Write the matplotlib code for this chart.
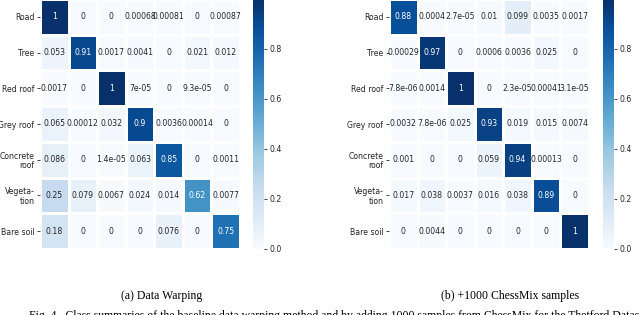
import numpy as np
import matplotlib
matplotlib.use("Agg")
import matplotlib.pyplot as plt

classes = ["Road", "Tree", "Red roof", "Grey roof", "Concrete\nroof", "Vegeta-\ntion", "Bare soil"]

warping = [
    [1, 0, 0, 0.00068, 0.00081, 0, 0.00087],
    [0.053, 0.91, 0.0017, 0.0041, 0, 0.021, 0.012],
    [0.0017, 0, 1, 7e-05, 0, 9.3e-05, 0],
    [0.065, 0.00012, 0.032, 0.9, 0.0036, 0.00014, 0],
    [0.086, 0, 1.4e-05, 0.063, 0.85, 0, 0.0011],
    [0.25, 0.079, 0.0067, 0.024, 0.014, 0.62, 0.0077],
    [0.18, 0, 0, 0, 0.076, 0, 0.75],
]

chessmix = [
    [0.88, 0.0004, 2.7e-05, 0.01, 0.099, 0.0035, 0.0017],
    [0.00029, 0.97, 0, 0.0006, 0.0036, 0.025, 0],
    [7.8e-06, 0.0014, 1, 0, 2.3e-05, 0.00041, 3.1e-05],
    [0.0032, 7.8e-06, 0.025, 0.93, 0.019, 0.015, 0.0074],
    [0.001, 0, 0, 0.059, 0.94, 0.00013, 0],
    [0.017, 0.038, 0.0037, 0.016, 0.038, 0.89, 0],
    [0, 0.0044, 0, 0, 0, 0, 1],
]

subcaptions = ["(a) Data Warping", "(b) +1000 ChessMix samples"]
caption = ("Fig. 4.  Class summaries of the baseline data warping method and by adding "
           "1000 samples from ChessMix for the Thetford Dataset")

W, H = 640, 315
fig = plt.figure(figsize=(6.4, 3.15), dpi=100)


def px(x0, y0, x1, y1):
    # pixel box (top-left origin) -> figure fraction rect
    return [x0 / W, 1 - y1 / H, (x1 - x0) / W, (y1 - y0) / H]


def heatmap(data, hm_box, cb_box):
    m = np.array(data, dtype=float)
    ax = fig.add_axes(px(*hm_box))
    mesh = ax.pcolormesh(m, cmap="Blues", vmin=0, vmax=m.max(),
                         edgecolors="white", linewidth=1.0)
    ax.set_xlim(0, m.shape[1])
    ax.set_ylim(m.shape[0], 0)
    for i in range(m.shape[0]):
        for j in range(m.shape[1]):
            v = m[i, j]
            ax.text(j + 0.5, i + 0.5, format(v, ".2g"), ha="center", va="center",
                    fontsize=5.6, color="white" if v > 0.5 else "#262626")
    ax.set_xticks([])
    ax.set_yticks(np.arange(m.shape[0]) + 0.5)
    ax.set_yticklabels(classes, fontsize=5.6, color="#262626", linespacing=1.1)
    ax.tick_params(axis="y", length=2.5, width=0.6, pad=1.5, colors="#262626")
    for s in ax.spines.values():
        s.set_visible(False)

    cax = fig.add_axes(px(*cb_box))
    cb = fig.colorbar(mesh, cax=cax)
    cb.outline.set_visible(False)
    cb.set_ticks([0.0, 0.2, 0.4, 0.6, 0.8])
    cb.ax.tick_params(labelsize=5.6, length=2.5, width=0.6, pad=1.5, colors="#262626")
    return ax


heatmap(warping, (40, -1, 240, 249), (253, -1, 264, 249))
heatmap(chessmix, (389, -1, 589, 249), (603, -1, 614, 249))

fig.text(162 / W, 1 - 296 / H, subcaptions[0], ha="center", va="center",
         fontsize=8.5, family="Liberation Serif")
fig.text(510 / W, 1 - 296 / H, subcaptions[1], ha="center", va="center",
         fontsize=8.5, family="Liberation Serif")
fig.text(29 / W, 1 - 316 / H, caption, ha="left", va="center",
         fontsize=8.5, family="Liberation Serif")

fig.savefig("out.png", dpi=100)
